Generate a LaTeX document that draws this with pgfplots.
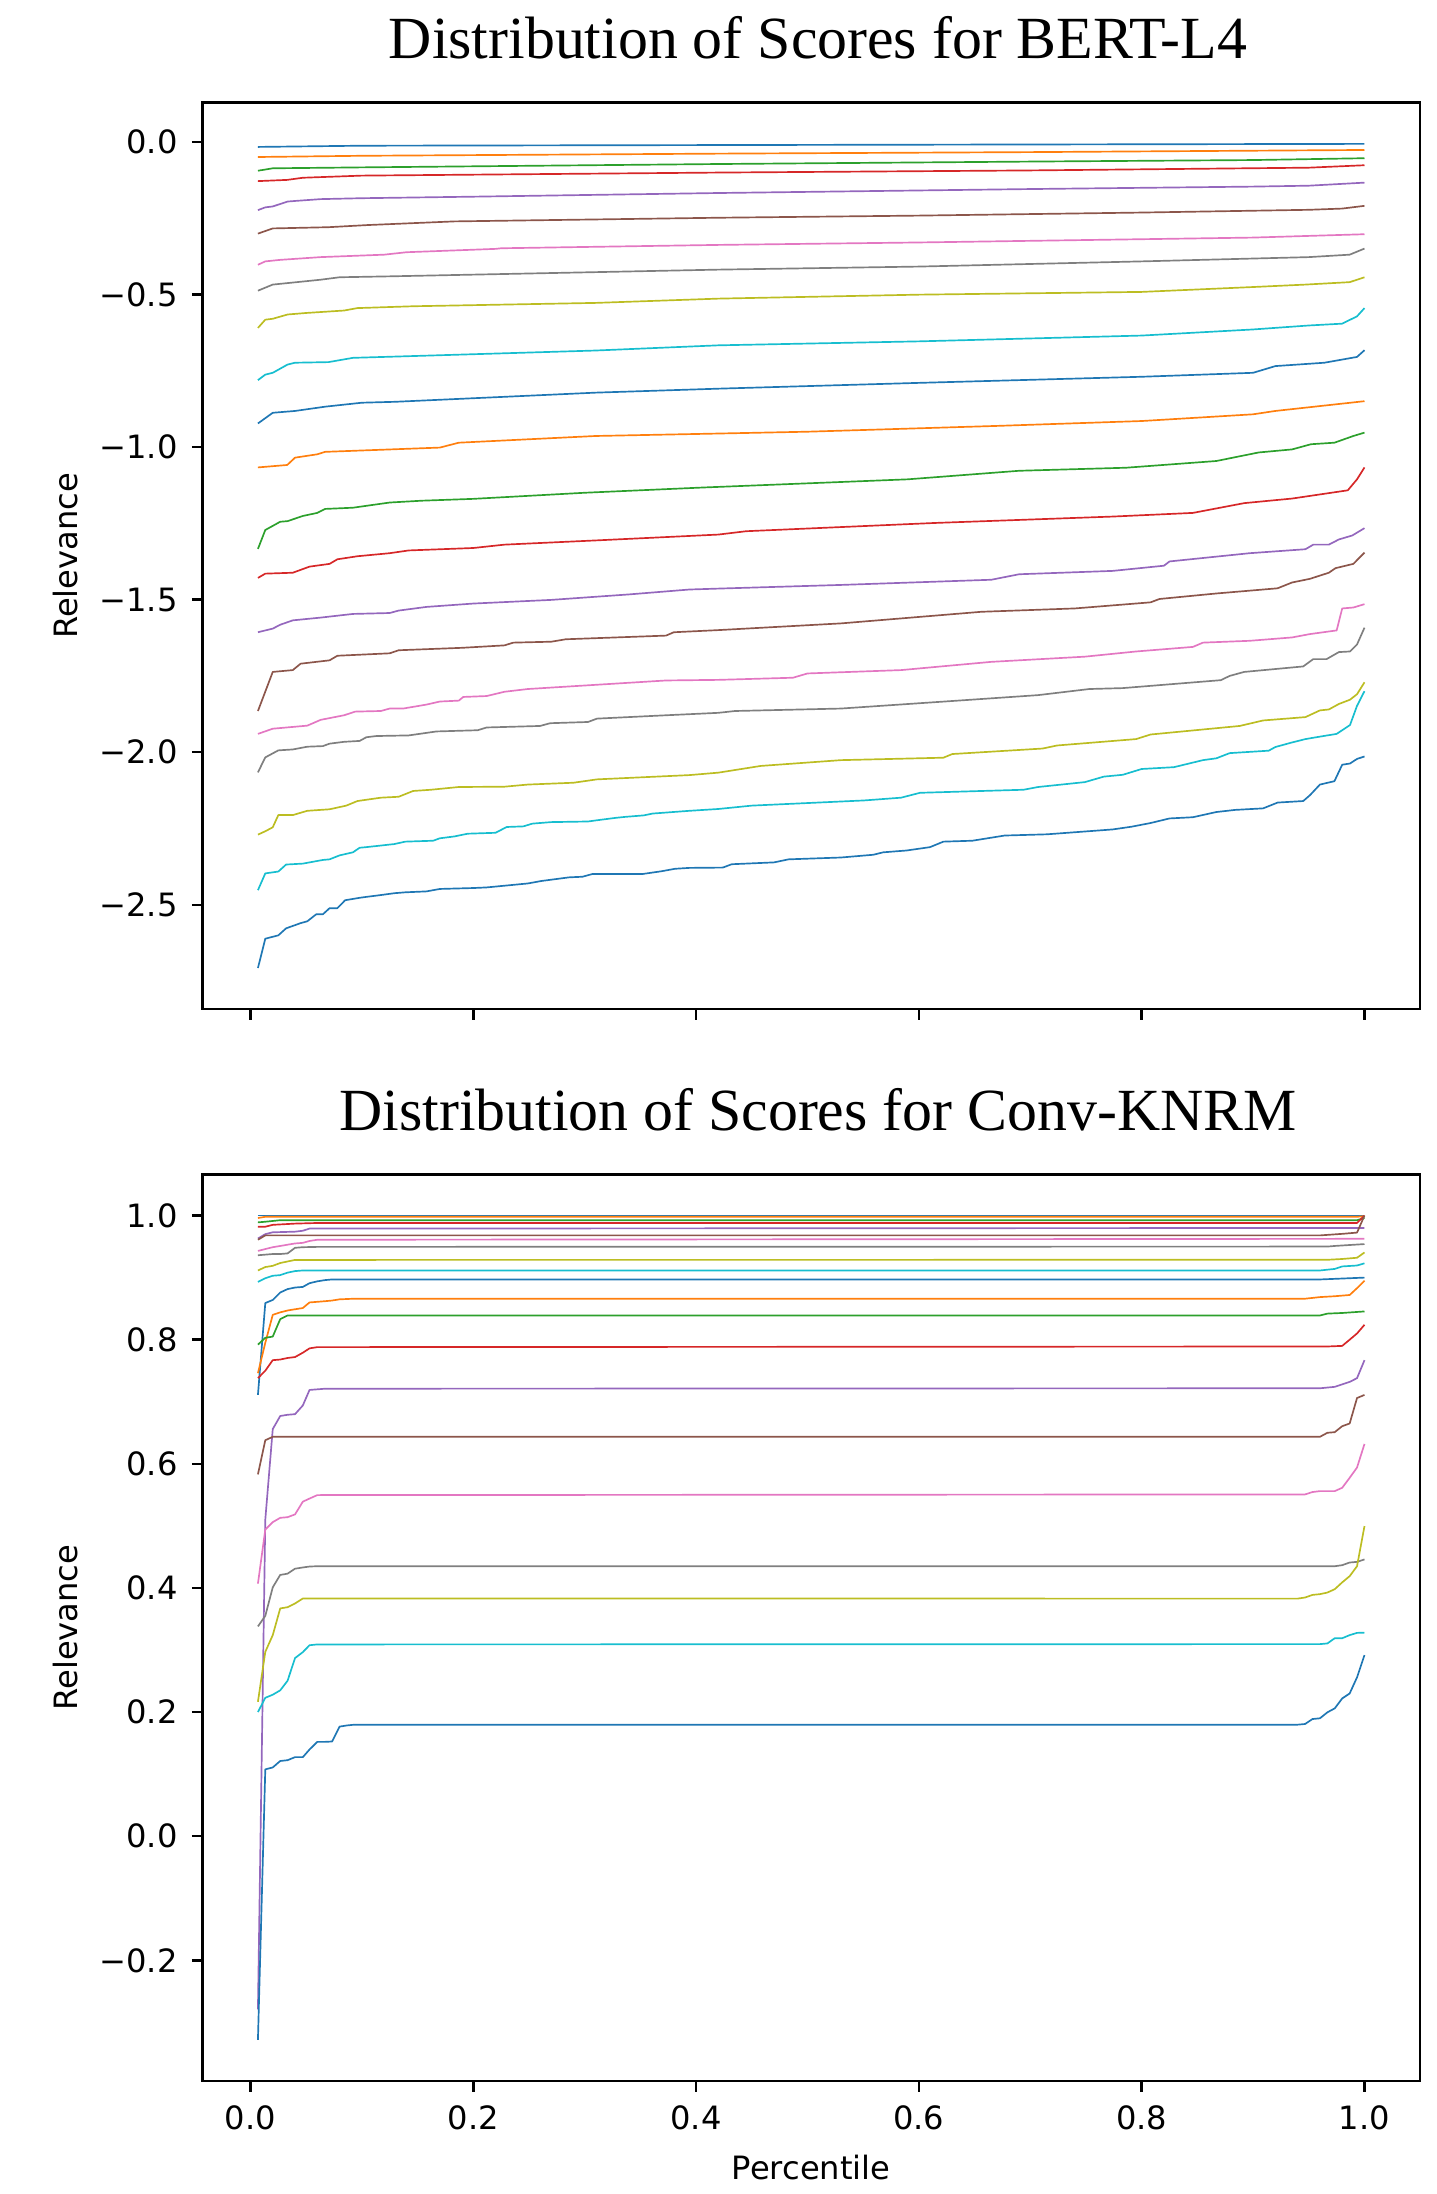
\documentclass[border=0pt]{standalone}
\usepackage{fontspec}
\usepackage{pgfplots}
\pgfplotsset{compat=1.18}
\newfontfamily\dejavu{DejaVu Sans}
\newfontfamily\libserif{Liberation Serif}
\definecolor{c0}{HTML}{1F77B4}
\definecolor{c1}{HTML}{FF7F0E}
\definecolor{c2}{HTML}{2CA02C}
\definecolor{c3}{HTML}{D62728}
\definecolor{c4}{HTML}{9467BD}
\definecolor{c5}{HTML}{8C564B}
\definecolor{c6}{HTML}{E377C2}
\definecolor{c7}{HTML}{7F7F7F}
\definecolor{c8}{HTML}{BCBD22}
\definecolor{c9}{HTML}{17BECF}
\pgfplotsset{
  mpl/.style={
    scale only axis, width=397.8bp, height=296.3bp,
    anchor=north west,
    xmin=-0.0430, xmax=1.0497,
    axis line style={line width=0.8bp, black},
    every tick/.style={line width=0.8bp, black},
    major tick length=3.5bp, tick align=outside,
    xtick pos=bottom, ytick pos=left,
    minor tick num=0,
    no markers,
    every axis plot/.append style={line width=0.55bp, line join=round},
    xtick={0,0.2,0.4,0.6,0.8,1.0},
    tick label style={font=\dejavu\fontsize{10.5bp}{12bp}\selectfont, inner sep=0pt},
    yticklabel style={anchor=east},
    xticklabel style={anchor=north},
    yticklabel shift=4.5bp,
    xticklabel shift=4.4bp,
    every axis title shift=0pt,
    title style={font=\libserif\fontsize{19.55bp}{22bp}\selectfont, at={(axis description cs:0.5,1)}, anchor=base, yshift=14.3bp, xshift=2.2bp, inner sep=0pt},
    ylabel style={font=\dejavu\fontsize{10.5bp}{12bp}\selectfont, at={(axis description cs:-0.1126,0.5)}, anchor=center, inner sep=0pt},
    xlabel style={font=\dejavu\fontsize{10.5bp}{12bp}\selectfont, at={(axis description cs:0.5,0)}, anchor=base, yshift=-32.2bp, inner sep=0pt},
  }
}
\begin{document}
\begin{tikzpicture}
\path[use as bounding box] (0,0) rectangle (469.28bp,-716.99bp);
\begin{axis}[mpl, at={(66.2bp,-33.5bp)},
  ymin=-2.842, ymax=0.1285,
  ytick={-2.5,-2.0,-1.5,-1.0,-0.5,0.0},
  yticklabels={−2.5,−2.0,−1.5,−1.0,−0.5,0.0},
  xticklabels={},
  title={Distribution of Scores for BERT-L4},
  ylabel={Relevance}]
\addplot[c0] coordinates {(0.0067,-0.017) (0.1,-0.013) (0.4,-0.011) (0.7,-0.009) (1.0,-0.007)};
\addplot[c1] coordinates {(0.0067,-0.050) (0.1,-0.046) (0.42,-0.039) (0.7,-0.034) (1.0,-0.027)};
\addplot[c2] coordinates {(0.0067,-0.095) (0.02,-0.087) (0.1,-0.084) (0.42,-0.073) (0.7,-0.065) (0.9,-0.060) (1.0,-0.054)};
\addplot[c3] coordinates {(0.0067,-0.129) (0.033,-0.125) (0.047,-0.118) (0.1,-0.111) (0.42,-0.101) (0.7,-0.094) (0.95,-0.085) (1.0,-0.077)};
\addplot[c4] coordinates {(0.0067,-0.224) (0.0133,-0.215) (0.02,-0.212) (0.0333,-0.196) (0.04,-0.194) (0.063,-0.188) (0.1,-0.185) (0.2,-0.180) (0.42,-0.168) (0.7,-0.155) (0.9,-0.147) (0.95,-0.144) (1.0,-0.134)};
\addplot[c5] coordinates {(0.0067,-0.301) (0.02,-0.284) (0.07,-0.280) (0.105,-0.273) (0.183,-0.261) (0.42,-0.249) (0.6,-0.242) (0.8,-0.232) (0.95,-0.223) (0.98,-0.219) (1.0,-0.210)};
\addplot[c6] coordinates {(0.0067,-0.403) (0.0133,-0.392) (0.0267,-0.387) (0.063,-0.378) (0.12,-0.370) (0.14,-0.362) (0.22,-0.351) (0.225,-0.349) (0.42,-0.338) (0.6,-0.330) (0.9,-0.314) (1.0,-0.303)};
\addplot[c7] coordinates {(0.0067,-0.488) (0.02,-0.468) (0.047,-0.458) (0.063,-0.452) (0.08,-0.444) (0.125,-0.441) (0.42,-0.419) (0.6,-0.409) (0.8,-0.392) (0.95,-0.378) (0.9867,-0.370) (1.0,-0.350)};
\addplot[c8] coordinates {(0.0067,-0.610) (0.0133,-0.583) (0.02,-0.580) (0.0333,-0.566) (0.05,-0.561) (0.084,-0.553) (0.096,-0.545) (0.146,-0.539) (0.31,-0.528) (0.42,-0.514) (0.6,-0.501) (0.8,-0.492) (0.9,-0.476) (0.947,-0.468) (0.9867,-0.460) (1.0,-0.444)};
\addplot[c9] coordinates {(0.0067,-0.781) (0.0133,-0.763) (0.02,-0.757) (0.0333,-0.730) (0.04,-0.724) (0.07,-0.722) (0.092,-0.708) (0.138,-0.703) (0.31,-0.684) (0.42,-0.667) (0.6,-0.654) (0.8,-0.635) (0.9,-0.615) (0.95,-0.602) (0.98,-0.596) (0.9933,-0.572) (1.0,-0.545)};
\addplot[c0] coordinates {(0.0067,-0.923) (0.02,-0.888) (0.04,-0.882) (0.067,-0.868) (0.1,-0.855) (0.13,-0.852) (0.31,-0.822) (0.42,-0.809) (0.6,-0.790) (0.8,-0.770) (0.9,-0.757) (0.92,-0.735) (0.964,-0.724) (0.9933,-0.705) (1.0,-0.683)};
\addplot[c1] coordinates {(0.0067,-1.067) (0.033,-1.059) (0.04,-1.035) (0.06,-1.024) (0.067,-1.016) (0.17,-1.002) (0.187,-0.986) (0.31,-0.964) (0.42,-0.956) (0.5,-0.950) (0.67,-0.931) (0.8,-0.915) (0.9,-0.893) (0.92,-0.882) (0.96,-0.866) (1.0,-0.850)};
\addplot[c2] coordinates {(0.0067,-1.334) (0.0133,-1.272) (0.0267,-1.245) (0.0333,-1.243) (0.047,-1.226) (0.06,-1.216) (0.067,-1.203) (0.092,-1.199) (0.125,-1.182) (0.154,-1.176) (0.2,-1.170) (0.3,-1.150) (0.405,-1.133) (0.59,-1.106) (0.69,-1.078) (0.786,-1.068) (0.867,-1.046) (0.905,-1.018) (0.935,-1.008) (0.952,-0.991) (0.973,-0.986) (0.99,-0.964) (1.0,-0.953)};
\addplot[c3] coordinates {(0.0067,-1.429) (0.0133,-1.415) (0.038,-1.412) (0.053,-1.392) (0.071,-1.383) (0.078,-1.368) (0.096,-1.358) (0.125,-1.348) (0.142,-1.339) (0.2,-1.331) (0.228,-1.320) (0.311,-1.306) (0.42,-1.287) (0.445,-1.276) (0.614,-1.249) (0.774,-1.228) (0.846,-1.216) (0.892,-1.184) (0.935,-1.169) (0.985,-1.142) (0.9933,-1.106) (1.0,-1.067)};
\addplot[c4] coordinates {(0.0067,-1.607) (0.02,-1.595) (0.027,-1.582) (0.038,-1.568) (0.063,-1.559) (0.092,-1.547) (0.125,-1.544) (0.133,-1.536) (0.158,-1.524) (0.2,-1.513) (0.27,-1.501) (0.34,-1.483) (0.394,-1.467) (0.42,-1.464) (0.53,-1.452) (0.665,-1.435) (0.69,-1.417) (0.774,-1.406) (0.82,-1.389) (0.825,-1.375) (0.897,-1.348) (0.947,-1.335) (0.954,-1.320) (0.968,-1.320) (0.977,-1.303) (0.989,-1.290) (1.0,-1.266)};
\addplot[c5] coordinates {(0.0067,-1.865) (0.02,-1.737) (0.038,-1.731) (0.045,-1.710) (0.071,-1.699) (0.078,-1.684) (0.125,-1.676) (0.133,-1.666) (0.19,-1.658) (0.228,-1.650) (0.236,-1.641) (0.27,-1.638) (0.283,-1.630) (0.373,-1.618) (0.38,-1.607) (0.42,-1.600) (0.53,-1.578) (0.656,-1.540) (0.74,-1.529) (0.808,-1.509) (0.816,-1.498) (0.867,-1.480) (0.922,-1.463) (0.935,-1.444) (0.951,-1.432) (0.968,-1.412) (0.974,-1.397) (0.99,-1.383) (1.0,-1.346)};
\addplot[c6] coordinates {(0.0067,-1.940) (0.02,-1.923) (0.051,-1.913) (0.063,-1.894) (0.084,-1.879) (0.094,-1.867) (0.117,-1.865) (0.125,-1.857) (0.137,-1.857) (0.158,-1.844) (0.17,-1.834) (0.187,-1.831) (0.191,-1.819) (0.212,-1.816) (0.228,-1.802) (0.249,-1.793) (0.311,-1.779) (0.373,-1.765) (0.42,-1.763) (0.487,-1.756) (0.5,-1.742) (0.584,-1.731) (0.665,-1.704) (0.749,-1.687) (0.795,-1.670) (0.846,-1.655) (0.855,-1.641) (0.897,-1.635) (0.935,-1.624) (0.951,-1.613) (0.975,-1.601) (0.98,-1.529) (0.99,-1.526) (1.0,-1.515)};
\addplot[c7] coordinates {(0.0067,-2.066) (0.0133,-2.017) (0.025,-1.994) (0.038,-1.991) (0.051,-1.982) (0.065,-1.980) (0.071,-1.972) (0.084,-1.966) (0.098,-1.963) (0.104,-1.951) (0.113,-1.947) (0.142,-1.945) (0.167,-1.932) (0.204,-1.928) (0.212,-1.919) (0.26,-1.914) (0.269,-1.905) (0.303,-1.901) (0.311,-1.890) (0.373,-1.879) (0.42,-1.871) (0.435,-1.865) (0.53,-1.857) (0.635,-1.831) (0.707,-1.813) (0.753,-1.793) (0.783,-1.790) (0.871,-1.764) (0.879,-1.750) (0.892,-1.737) (0.945,-1.719) (0.954,-1.695) (0.966,-1.695) (0.977,-1.672) (0.987,-1.670) (0.9933,-1.647) (1.0,-1.592)};
\addplot[c8] coordinates {(0.0067,-2.270) (0.0133,-2.259) (0.02,-2.246) (0.025,-2.206) (0.038,-2.206) (0.051,-2.192) (0.071,-2.187) (0.086,-2.175) (0.096,-2.160) (0.117,-2.149) (0.133,-2.146) (0.146,-2.127) (0.162,-2.123) (0.187,-2.114) (0.228,-2.113) (0.249,-2.106) (0.29,-2.100) (0.311,-2.089) (0.394,-2.075) (0.42,-2.067) (0.458,-2.045) (0.53,-2.026) (0.622,-2.018) (0.63,-2.006) (0.711,-1.988) (0.724,-1.978) (0.795,-1.957) (0.808,-1.942) (0.888,-1.914) (0.909,-1.896) (0.947,-1.885) (0.96,-1.863) (0.968,-1.860) (0.977,-1.842) (0.987,-1.828) (0.9933,-1.810) (1.0,-1.771)};
\addplot[c9] coordinates {(0.0067,-2.452) (0.0133,-2.397) (0.025,-2.391) (0.032,-2.368) (0.047,-2.365) (0.065,-2.353) (0.071,-2.351) (0.08,-2.338) (0.092,-2.328) (0.098,-2.313) (0.104,-2.311) (0.129,-2.301) (0.139,-2.293) (0.164,-2.290) (0.17,-2.282) (0.183,-2.276) (0.195,-2.267) (0.22,-2.264) (0.23,-2.245) (0.245,-2.243) (0.253,-2.234) (0.27,-2.229) (0.303,-2.227) (0.311,-2.223) (0.328,-2.215) (0.336,-2.212) (0.353,-2.207) (0.361,-2.201) (0.394,-2.192) (0.42,-2.186) (0.45,-2.175) (0.551,-2.158) (0.584,-2.149) (0.601,-2.133) (0.694,-2.123) (0.707,-2.114) (0.749,-2.098) (0.766,-2.080) (0.783,-2.074) (0.8,-2.055) (0.829,-2.049) (0.855,-2.026) (0.867,-2.020) (0.879,-2.003) (0.914,-1.995) (0.92,-1.983) (0.935,-1.968) (0.947,-1.957) (0.96,-1.949) (0.975,-1.940) (0.987,-1.911) (0.9933,-1.848) (1.0,-1.800)};
\addplot[c0] coordinates {(0.0067,-2.707) (0.0133,-2.611) (0.025,-2.600) (0.032,-2.577) (0.045,-2.560) (0.051,-2.554) (0.059,-2.531) (0.065,-2.531) (0.071,-2.511) (0.078,-2.511) (0.085,-2.485) (0.098,-2.477) (0.104,-2.474) (0.117,-2.468) (0.129,-2.462) (0.139,-2.459) (0.158,-2.456) (0.17,-2.448) (0.2,-2.445) (0.212,-2.443) (0.232,-2.436) (0.249,-2.430) (0.261,-2.422) (0.286,-2.410) (0.298,-2.408) (0.307,-2.399) (0.352,-2.399) (0.369,-2.390) (0.381,-2.382) (0.394,-2.379) (0.424,-2.378) (0.432,-2.367) (0.47,-2.361) (0.483,-2.351) (0.53,-2.345) (0.559,-2.336) (0.568,-2.328) (0.589,-2.322) (0.61,-2.311) (0.622,-2.293) (0.648,-2.290) (0.677,-2.273) (0.715,-2.269) (0.774,-2.253) (0.791,-2.244) (0.808,-2.232) (0.825,-2.217) (0.846,-2.213) (0.867,-2.196) (0.884,-2.189) (0.909,-2.184) (0.922,-2.165) (0.945,-2.160) (0.951,-2.141) (0.96,-2.106) (0.973,-2.095) (0.98,-2.041) (0.987,-2.037) (0.9933,-2.022) (1.0,-2.014)};
\end{axis}
\begin{axis}[mpl, at={(66.2bp,-383.76bp)},
  ymin=-0.3944, ymax=1.0664,
  ytick={-0.2,0.0,0.2,0.4,0.6,0.8,1.0},
  yticklabels={−0.2,0.0,0.2,0.4,0.6,0.8,1.0},
  xticklabels={0.0,0.2,0.4,0.6,0.8,1.0},
  title={Distribution of Scores for Conv-KNRM},
  ylabel={Relevance}, xlabel={Percentile}]
\addplot[c0] coordinates {(0.0067,1.0) (1.0,1.0)};
\addplot[c1] coordinates {(0.0067,0.996) (0.0133,0.998) (0.9933,0.998) (1.0,0.999)};
\addplot[c2] coordinates {(0.0067,0.989) (0.0133,0.990) (0.0267,0.9925) (0.9933,0.9925) (1.0,0.996)};
\addplot[c3] coordinates {(0.0067,0.982) (0.0133,0.982) (0.02,0.985) (0.04,0.987) (0.06,0.988) (0.9933,0.988) (1.0,1.0)};
\addplot[c4] coordinates {(0.0067,0.963) (0.0133,0.970) (0.02,0.973) (0.04,0.974) (0.047,0.9755) (0.053,0.979) (1.0,0.980)};
\addplot[c5] coordinates {(0.0067,0.961) (0.0133,0.968) (0.96,0.968) (0.98,0.9705) (0.9933,0.9725) (1.0,1.0)};
\addplot[c6] coordinates {(0.0067,0.943) (0.0133,0.946) (0.02,0.949) (0.0267,0.951) (0.0333,0.953) (0.04,0.955) (0.047,0.956) (0.053,0.959) (0.06,0.961) (1.0,0.9625)};
\addplot[c7] coordinates {(0.0067,0.936) (0.0133,0.937) (0.02,0.938) (0.0267,0.938) (0.0333,0.939) (0.04,0.948) (0.047,0.949) (0.06,0.9495) (0.9667,0.950) (0.9733,0.951) (1.0,0.954)};
\addplot[c8] coordinates {(0.0067,0.9115) (0.0133,0.917) (0.02,0.919) (0.0267,0.9235) (0.0333,0.926) (0.04,0.9285) (0.9667,0.9287) (0.98,0.930) (0.9933,0.932) (1.0,0.9405)};
\addplot[c9] coordinates {(0.0067,0.893) (0.0133,0.899) (0.02,0.903) (0.0267,0.904) (0.0333,0.908) (0.04,0.9105) (0.047,0.9115) (0.96,0.9115) (0.9733,0.914) (0.98,0.918) (0.9933,0.9195) (1.0,0.923)};
\addplot[c0] coordinates {(0.0067,0.711) (0.0133,0.859) (0.02,0.864) (0.0267,0.876) (0.0333,0.8815) (0.04,0.884) (0.047,0.885) (0.053,0.891) (0.06,0.894) (0.067,0.896) (0.073,0.897) (0.96,0.897) (0.9733,0.898) (1.0,0.900)};
\addplot[c1] coordinates {(0.0067,0.746) (0.0133,0.795) (0.02,0.840) (0.0267,0.844) (0.0333,0.847) (0.04,0.849) (0.047,0.851) (0.053,0.860) (0.06,0.861) (0.067,0.862) (0.073,0.863) (0.08,0.865) (0.093,0.866) (0.9467,0.866) (0.96,0.8686) (0.9733,0.870) (0.9867,0.872) (0.9933,0.883) (1.0,0.895)};
\addplot[c2] coordinates {(0.0067,0.792) (0.0133,0.803) (0.02,0.805) (0.0267,0.833) (0.0333,0.839) (0.96,0.839) (0.9667,0.842) (0.98,0.843) (1.0,0.8455)};
\addplot[c3] coordinates {(0.0067,0.738) (0.0133,0.750) (0.02,0.767) (0.0267,0.768) (0.0333,0.7705) (0.04,0.772) (0.047,0.779) (0.053,0.786) (0.06,0.788) (0.9667,0.789) (0.98,0.790) (0.9867,0.800) (0.9933,0.810) (1.0,0.824)};
\addplot[c4] coordinates {(0.0067,-0.279) (0.0133,0.51) (0.02,0.656) (0.0267,0.677) (0.0333,0.679) (0.04,0.680) (0.047,0.694) (0.053,0.719) (0.06,0.720) (0.067,0.721) (0.96,0.7217) (0.9733,0.724) (0.98,0.728) (0.9867,0.732) (0.9933,0.738) (1.0,0.767)};
\addplot[c5] coordinates {(0.0067,0.583) (0.0133,0.638) (0.02,0.6435) (0.96,0.6435) (0.9667,0.650) (0.9733,0.651) (0.98,0.6606) (0.9867,0.665) (0.9933,0.706) (1.0,0.711)};
\addplot[c6] coordinates {(0.0067,0.407) (0.0133,0.494) (0.02,0.506) (0.0267,0.513) (0.0333,0.514) (0.04,0.5185) (0.047,0.539) (0.053,0.544) (0.06,0.5496) (0.9467,0.5507) (0.9533,0.5545) (0.96,0.556) (0.9733,0.556) (0.98,0.5614) (0.9867,0.5775) (0.9933,0.594) (1.0,0.632)};
\addplot[c7] coordinates {(0.0067,0.338) (0.0133,0.355) (0.02,0.401) (0.0267,0.421) (0.0333,0.423) (0.04,0.431) (0.047,0.433) (0.053,0.4345) (0.06,0.435) (0.9733,0.435) (0.98,0.4367) (0.9867,0.441) (0.9933,0.442) (1.0,0.446)};
\addplot[c8] coordinates {(0.0067,0.2166) (0.0133,0.297) (0.02,0.324) (0.0267,0.367) (0.0333,0.369) (0.04,0.375) (0.047,0.383) (0.94,0.3828) (0.9467,0.3846) (0.9533,0.3888) (0.96,0.390) (0.9667,0.3926) (0.9733,0.398) (0.98,0.409) (0.9867,0.419) (0.9933,0.435) (1.0,0.4997)};
\addplot[c9] coordinates {(0.0067,0.200) (0.0133,0.223) (0.02,0.228) (0.0267,0.235) (0.0333,0.2505) (0.04,0.287) (0.047,0.2966) (0.053,0.3077) (0.06,0.309) (0.96,0.3095) (0.9667,0.3106) (0.9733,0.319) (0.98,0.319) (0.9867,0.324) (0.9933,0.3276) (1.0,0.328)};
\addplot[c0] coordinates {(0.0067,-0.328) (0.0133,0.1077) (0.02,0.1108) (0.0267,0.1212) (0.0333,0.1225) (0.04,0.1274) (0.047,0.1274) (0.053,0.1397) (0.06,0.152) (0.0667,0.152) (0.0733,0.1526) (0.08,0.1766) (0.0867,0.1785) (0.0933,0.1797) (0.94,0.1797) (0.9467,0.1808) (0.9533,0.1888) (0.96,0.190) (0.9667,0.1996) (0.9733,0.206) (0.98,0.222) (0.9867,0.230) (0.9933,0.256) (1.0,0.2918)};
\end{axis}
\end{tikzpicture}
\end{document}
